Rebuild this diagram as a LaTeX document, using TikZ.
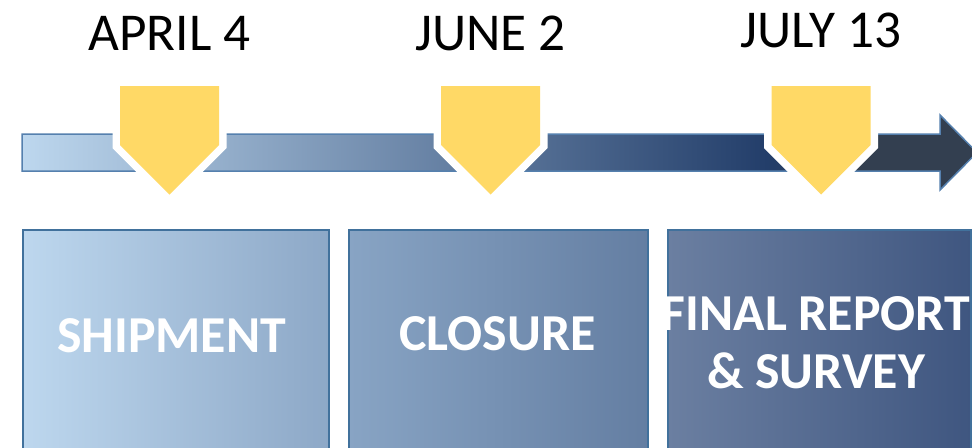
\documentclass[tikz,border=0pt]{standalone}
\usepackage{fontspec}
\setmainfont{Carlito}
\usetikzlibrary{calc}

\definecolor{msyellow}{HTML}{FFD966}
\definecolor{barlight}{HTML}{BDD7EE}
\definecolor{barnavy}{HTML}{233E6A}
\definecolor{barslate}{HTML}{333F50}
\definecolor{barline}{HTML}{5580AE}
\definecolor{boxline}{HTML}{41719C}
\definecolor{boxshipR}{HTML}{8DA8C7}
\definecolor{boxcloseL}{HTML}{88A4C4}
\definecolor{boxcloseR}{HTML}{647EA2}
\definecolor{boxfinalL}{HTML}{6B7FA1}
\definecolor{boxfinalR}{HTML}{3F5680}

% shading runs over the inner 25bp--75bp of the path
\pgfdeclarehorizontalshading{timebar}{100bp}{color(0bp)=(barlight); color(25bp)=(barlight);
  color(64bp)=(barnavy); color(68.75bp)=(barslate); color(100bp)=(barslate)}

\tikzset{
  datelabel/.style={inner sep=0pt, anchor=base, font=\fontsize{30.3}{36}\selectfont},
  phasebox/.style={draw=boxline, line width=0.04cm, anchor=north west, inner sep=0pt,
                   minimum height=4.9cm},
  phaselabel/.style={inner sep=0pt, text=white, align=center,
                     font=\fontsize{29.5}{33}\selectfont\bfseries},
  milestone/.style={fill=msyellow, preaction={draw=white, line width=0.3cm, line join=miter}}
}

\begin{document}
\begin{tikzpicture}[x=0.02cm, y=-0.02cm]

  \clip (0, 0) rectangle (972, 447);

  % the time line
  \draw[barline, line width=0.03cm, shading=timebar]
       (22, 134) -- (940, 134) -- (940, 115) -- (977, 152.5)
    -- (940, 190) -- (940, 171) -- (22, 171) -- cycle;

  % milestones with their dates
  \pgfmathsetmacro{\dx}{49.5}
  \foreach \x/\y/\date [count=\n] in {169.5/50/APRIL 4, 490.5/50/JUNE 2, 821/47/JULY 13} {
    \path[milestone] ({\x - \dx}, 86) -- ({\x + \dx}, 86) -- ({\x + \dx}, 145)
      -- (\x, {145 + \dx}) -- ({\x - \dx}, 145) -- cycle;
    \node[datelabel] (date\n) at (\x, \y) {\date};
  }

  % phases
  \node[phasebox, minimum width=6.12cm, left color=barlight, right color=boxshipR] (ship) at (22, 229) {};
  \node[phasebox, minimum width=5.98cm, left color=boxcloseL, right color=boxcloseR] (close) at (348, 229) {};
  \node[phasebox, minimum width=6.06cm, left color=boxfinalL, right color=boxfinalR] (final) at (667, 229) {};

  \node[phaselabel, anchor=base] (shiptext) at (171.5, 352) {SHIPMENT};
  \node[phaselabel, anchor=base] (closetext) at (497.5, 350) {CLOSURE};
  \node[phaselabel] (finaltext) at (816, 343) {FINAL REPORT\\\& SURVEY};

\end{tikzpicture}
\end{document}
